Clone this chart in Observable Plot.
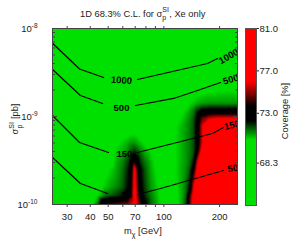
<!DOCTYPE html>
<html><head><meta charset="utf-8">
<script src="https://cdn.jsdelivr.net/npm/d3@7"></script>
<script src="https://cdn.jsdelivr.net/npm/@observablehq/plot@0.6"></script>
<style>
body{margin:0;background:#fff;}
#wrap{position:relative;width:296px;height:246px;font-family:"Liberation Sans",Arial,sans-serif;}
#wrap svg{position:absolute;left:0;top:0;overflow:visible;}
</style></head><body><div id="wrap"></div>
<script>
// ---- data ----
const masses = [25, 40, 44, 48, 55, 60, 64, 67, 69.5, 72, 75, 79, 85, 95, 115, 125, 132, 138, 145, 152, 160, 175, 200, 250];
const sigmaExp = [-10, -9.9, -9.8, -9.7, -9.6, -9.5, -9.4, -9.3, -9.2, -9.1, -9.02, -8.95, -8.85, -8.7, -8.4, -8];
const coverage = [
  [66, 70, 71.5, 74, 74.6, 74.8, 75, 75.8, 76.5, 75.5, 74.3, 72.5, 71.5, 70.6, 70.3, 70.9, 71.8, 74.5, 77, 78, 79, 80, 80, 80],
  [66, 69.5, 70.6, 71.4, 71.8, 72.2, 72.8, 74.5, 77, 75, 72.8, 72, 71.3, 70.5, 70.3, 70.9, 71.6, 74, 76.8, 78, 79, 80, 80, 80],
  [66, 68, 70.2, 70.7, 71.2, 71.6, 72.3, 74, 77, 74.5, 72.5, 71.8, 71.1, 70.4, 70.4, 70.9, 71.4, 72.4, 76, 77.5, 78.5, 80, 80, 80],
  [66, 67, 70, 70.5, 71, 71.5, 72.2, 73.8, 76.8, 74.2, 72.4, 71.7, 71, 70.3, 70.5, 70.9, 71.3, 71.9, 74.8, 77, 78.5, 80, 80, 80],
  [66, 66, 68, 70.3, 70.9, 71.4, 72.1, 73.5, 76.5, 74, 72.3, 71.6, 70.9, 70.2, 70.5, 70.9, 71.2, 71.6, 73.5, 76.5, 78, 80, 80, 80],
  [66, 66, 67, 69.5, 70.8, 71.2, 71.8, 72.5, 73.5, 72.6, 71.8, 71.3, 70.8, 70, 70.5, 70.85, 71.1, 71.4, 72.2, 75.5, 77.5, 79.5, 80, 80],
  [66, 66, 66, 68, 70.6, 70.9, 71.3, 71.7, 72, 71.7, 71.3, 70.9, 70.5, 69.5, 70.5, 70.85, 71.1, 71.3, 71.7, 73.5, 76.5, 79, 80, 80],
  [66, 66, 66, 67, 70.4, 70.7, 70.9, 71.1, 71.1, 70.9, 70.7, 70.4, 70, 69, 70.5, 70.85, 71.1, 71.3, 71.7, 72.8, 75.5, 78, 80, 80],
  [66, 66, 66, 66, 69, 70.2, 70.4, 70.5, 70.5, 70.4, 70.2, 69.5, 68.5, 68, 70.5, 70.85, 71.1, 71.3, 71.7, 72.8, 75.5, 78, 80, 80],
  [66, 66, 66, 66, 67.5, 68.5, 69, 69.5, 69.5, 69, 68.5, 68, 67.5, 67.5, 70.4, 70.8, 71.05, 71.3, 71.7, 72.8, 75.5, 78, 79.5, 80],
  [66, 66, 66, 66, 66, 66, 66, 66, 66, 66, 66, 66, 66, 66.5, 70.2, 70.6, 70.9, 71.2, 71.6, 72.6, 74.5, 75.5, 76, 76],
  [66, 66, 66, 66, 66, 66, 66, 66, 66, 66, 66, 66, 66, 66, 69.8, 70.4, 70.7, 71, 71.4, 72.2, 72.8, 73, 73, 73],
  [66, 66, 66, 66, 66, 66, 66, 66, 66, 66, 66, 66, 66, 66, 68.5, 70.1, 70.3, 70.5, 70.7, 70.9, 71, 71.1, 71.1, 71.1],
  [66, 66, 66, 66, 66, 66, 66, 66, 66, 66, 66, 66, 66, 66, 66, 68, 69, 69.5, 70, 70.2, 70.3, 70.4, 70.5, 70.5],
  [66, 66, 66, 66, 66, 66, 66, 66, 66, 66, 66, 66, 66, 66, 66, 66, 66, 66, 66, 66, 66, 66, 66, 66],
  [66, 66, 66, 66, 66, 66, 66, 66, 66, 66, 66, 66, 66, 66, 66, 66, 66, 66, 66, 66, 66, 66, 66, 66]
];
// contour lines (mass, log10 sigma); NaN = gap for label
const c1000Mass = [25, 35, 47.2, NaN, 72, 172, 195];
const c1000Exp  = [-8.167, -8.46, -8.557, NaN, -8.58, -8.398, -8.341];
const c500Mass  = [25, 35.4, 46.6, NaN, 70.3, 112.8, 152, 202.5];
const c500Exp   = [-8.466, -8.761, -8.852, NaN, -8.875, -8.795, -8.705, -8.614];
const c150Mass  = [25, 35, 50.2, NaN, 72, 183, 210];
const c150Exp   = [-8.989, -9.295, -9.409, NaN, -9.409, -9.193, -9.125];
const c50Mass   = [25, 35.4, 49.6, NaN, 72, 95.9, 210];
const c50Exp    = [-9.466, -9.761, -9.875, NaN, -9.886, -9.818, -9.614];
const labelText = ["1000", "500", "150", "50", "1000", "500", "150", "50"];
const labelMass = [59, 59, 61.2, 63, 224, 230, 233, 236];
const labelExp  = [-8.59, -8.898, -9.42, -9.89, -8.318, -8.58, -9.10, -9.59];
const colorStops = [64.3, 70.5, 72.3, 73.7, 76, 81];
const colorbarTicks = [68.3, 73.0, 77.0, 81.0];
const xTickLabels = [30, 40, 50, 70, 100, 200];
const xMinorTicks = [30, 40, 50, 60, 70, 80, 90, 100, 200];
const yMajorTicks = [1e-10, 1e-9, 1e-8];
const yMinorTicks = [2e-10, 3e-10, 4e-10, 5e-10, 6e-10, 7e-10, 8e-10, 9e-10, 2e-9, 3e-9, 4e-9, 5e-9, 6e-9, 7e-9, 8e-9, 9e-9];

// ---- build ----
const W = 296, H = 246;
const FONT = "Liberation Sans, Arial, sans-serif";
const GREEN = "#00e000";
const cMin = colorStops[0], cMax = colorStops[colorStops.length - 1];
const cmap = d3.scaleLinear().domain(colorStops)
  .range([GREEN, GREEN, "#000000", "#000000", "#ff0000", "#ff0000"])
  .interpolate(d3.interpolateRgb).clamp(true);
const colorOpts = {type: "linear", domain: [cMin, cMax], interpolate: t => cmap(cMin + t * (cMax - cMin)), clamp: true};

const grid = [];
sigmaExp.forEach((e, j) => masses.forEach((m, i) => grid.push({m, s: 10 ** e, c: coverage[j][i]})));
const toLine = (M, E, id) => M.map((m, i) => ({m, s: isNaN(E[i]) ? NaN : 10 ** E[i], id}));
const lines = [
  ...toLine(c1000Mass, c1000Exp, "1000"),
  ...toLine(c500Mass, c500Exp, "500"),
  ...toLine(c150Mass, c150Exp, "150"),
  ...toLine(c50Mass, c50Exp, "50")
];
const labelRot = [4, 0, 0, 0, -30, -17, -12, -8];
const labelMarks = labelText.map((t, i) =>
  Plot.text([{m: labelMass[i], s: 10 ** labelExp[i], t}], {
    x: "m", y: "s", text: "t", rotate: labelRot[i], fontSize: 9.5, fontWeight: "bold",
    fill: "#000", clip: true
  })
);
const supFmt = d => "10^" + Math.round(Math.log10(d));

const main = Plot.plot({
  width: W, height: H,
  marginLeft: 52, marginRight: 59, marginTop: 28, marginBottom: 42,
  style: {fontFamily: FONT, fontSize: "9.5px", background: "transparent", color: "#222"},
  x: {type: "log", domain: [25, 250]},
  y: {type: "log", domain: [1e-10, 1e-8]},
  color: colorOpts,
  marks: [
    Plot.raster(grid, {x: "m", y: "s", fill: "c", interpolate: "barycentric", x1: 25, x2: 250, y1: 1e-10, y2: 1e-8}),
    Plot.line(lines, {x: "m", y: "s", z: "id", stroke: "#000", strokeWidth: 1.2}),
    ...labelMarks,
    Plot.frame({stroke: "#444"}),
    Plot.axisX({anchor: "bottom", ticks: xMinorTicks, tickSize: 3, tickPadding: 6, tickFormat: d => xTickLabels.includes(d) ? String(d) : "", label: null, stroke: "#444"}),
    Plot.axisX({anchor: "top", ticks: xMinorTicks, tickSize: 3, tickFormat: () => "", label: null, stroke: "#444"}),
    Plot.axisY({anchor: "left", ticks: yMinorTicks, tickSize: -3, tickFormat: () => "", label: null, stroke: "#444"}),
    Plot.axisY({anchor: "left", ticks: yMajorTicks, tickSize: -5, tickFormat: () => "", label: null, stroke: "#444"}),
    Plot.axisY({anchor: "left", ticks: yMajorTicks, tickSize: 0, tickPadding: 15, tickFormat: supFmt, label: null}),
    Plot.axisY({anchor: "right", ticks: yMinorTicks, tickSize: -3, tickFormat: () => "", label: null, stroke: "#444"}),
    Plot.axisY({anchor: "right", ticks: yMajorTicks, tickSize: -5, tickFormat: () => "", label: null, stroke: "#444"})
  ]
});

const cb = Plot.plot({
  width: W, height: H,
  marginLeft: 245, marginRight: 40, marginTop: 28, marginBottom: 41,
  style: {fontFamily: FONT, fontSize: "9.5px", background: "transparent", color: "#222"},
  x: {domain: [0, 1], axis: null},
  y: {domain: [cMin, cMax]},
  color: colorOpts,
  marks: [
    Plot.raster({x1: 0, x2: 1, y1: cMin, y2: cMax, fill: (x, y) => y}),
    Plot.frame({stroke: "#555"}),
    Plot.axisY({anchor: "right", ticks: colorbarTicks, tickSize: 2, tickPadding: 1, tickFormat: d => d.toFixed(1), label: null})
  ]
});

const wrap = document.getElementById("wrap");
wrap.appendChild(main);
wrap.appendChild(cb);

// superscripts on y tick labels
d3.select(main).selectAll('g[aria-label="y-axis tick label"] text').each(function () {
  const t = d3.select(this);
  const s = t.text();
  if (!s.includes("^")) return;
  const [base, exp] = s.split("^");
  t.text(null);
  t.append("tspan").text(base);
  t.append("tspan").attr("dy", "-4").attr("font-size", "6.5px").text(exp);
});

const svg = d3.select(main);
// title
const title = svg.append("text").attr("x", 80).attr("y", 16.5).attr("text-anchor", "start")
  .attr("font-family", FONT).attr("font-size", "9.3px").attr("fill", "#222");
title.append("tspan").text("1D 68.3% C.L. for σ");
title.append("tspan").attr("dy", -4.5).attr("font-size", "7px").text("SI");
title.append("tspan").attr("dx", -6.5).attr("dy", 8).attr("font-size", "7px").text("p");
title.append("tspan").attr("dx", 3).attr("dy", -3.5).text(", Xe only");

// y title
const yt = svg.append("text").attr("transform", "translate(18,119) rotate(-90)")
  .attr("text-anchor", "middle").attr("font-family", FONT).attr("font-size", "9.3px").attr("fill", "#222");
yt.append("tspan").text("σ");
yt.append("tspan").attr("dy", -4.5).attr("font-size", "7px").text("SI");
yt.append("tspan").attr("dx", -6.5).attr("dy", 8).attr("font-size", "7px").text("p");
yt.append("tspan").attr("dx", 3).attr("dy", -3.5).text(" [pb]");

// x title
const xt = svg.append("text").attr("x", 143).attr("y", 234).attr("text-anchor", "middle")
  .attr("font-family", FONT).attr("font-size", "9.3px").attr("fill", "#222");
xt.append("tspan").text("m");
xt.append("tspan").attr("dy", 3).attr("font-size", "7px").text("χ");
xt.append("tspan").attr("dy", -3).text(" [GeV]");

// colorbar title
d3.select(cb).append("text").attr("transform", "translate(288,111) rotate(-90)")
  .attr("text-anchor", "middle").attr("font-family", FONT).attr("font-size", "9.3px").attr("fill", "#222")
  .text("Coverage [%]");
</script></body></html>
